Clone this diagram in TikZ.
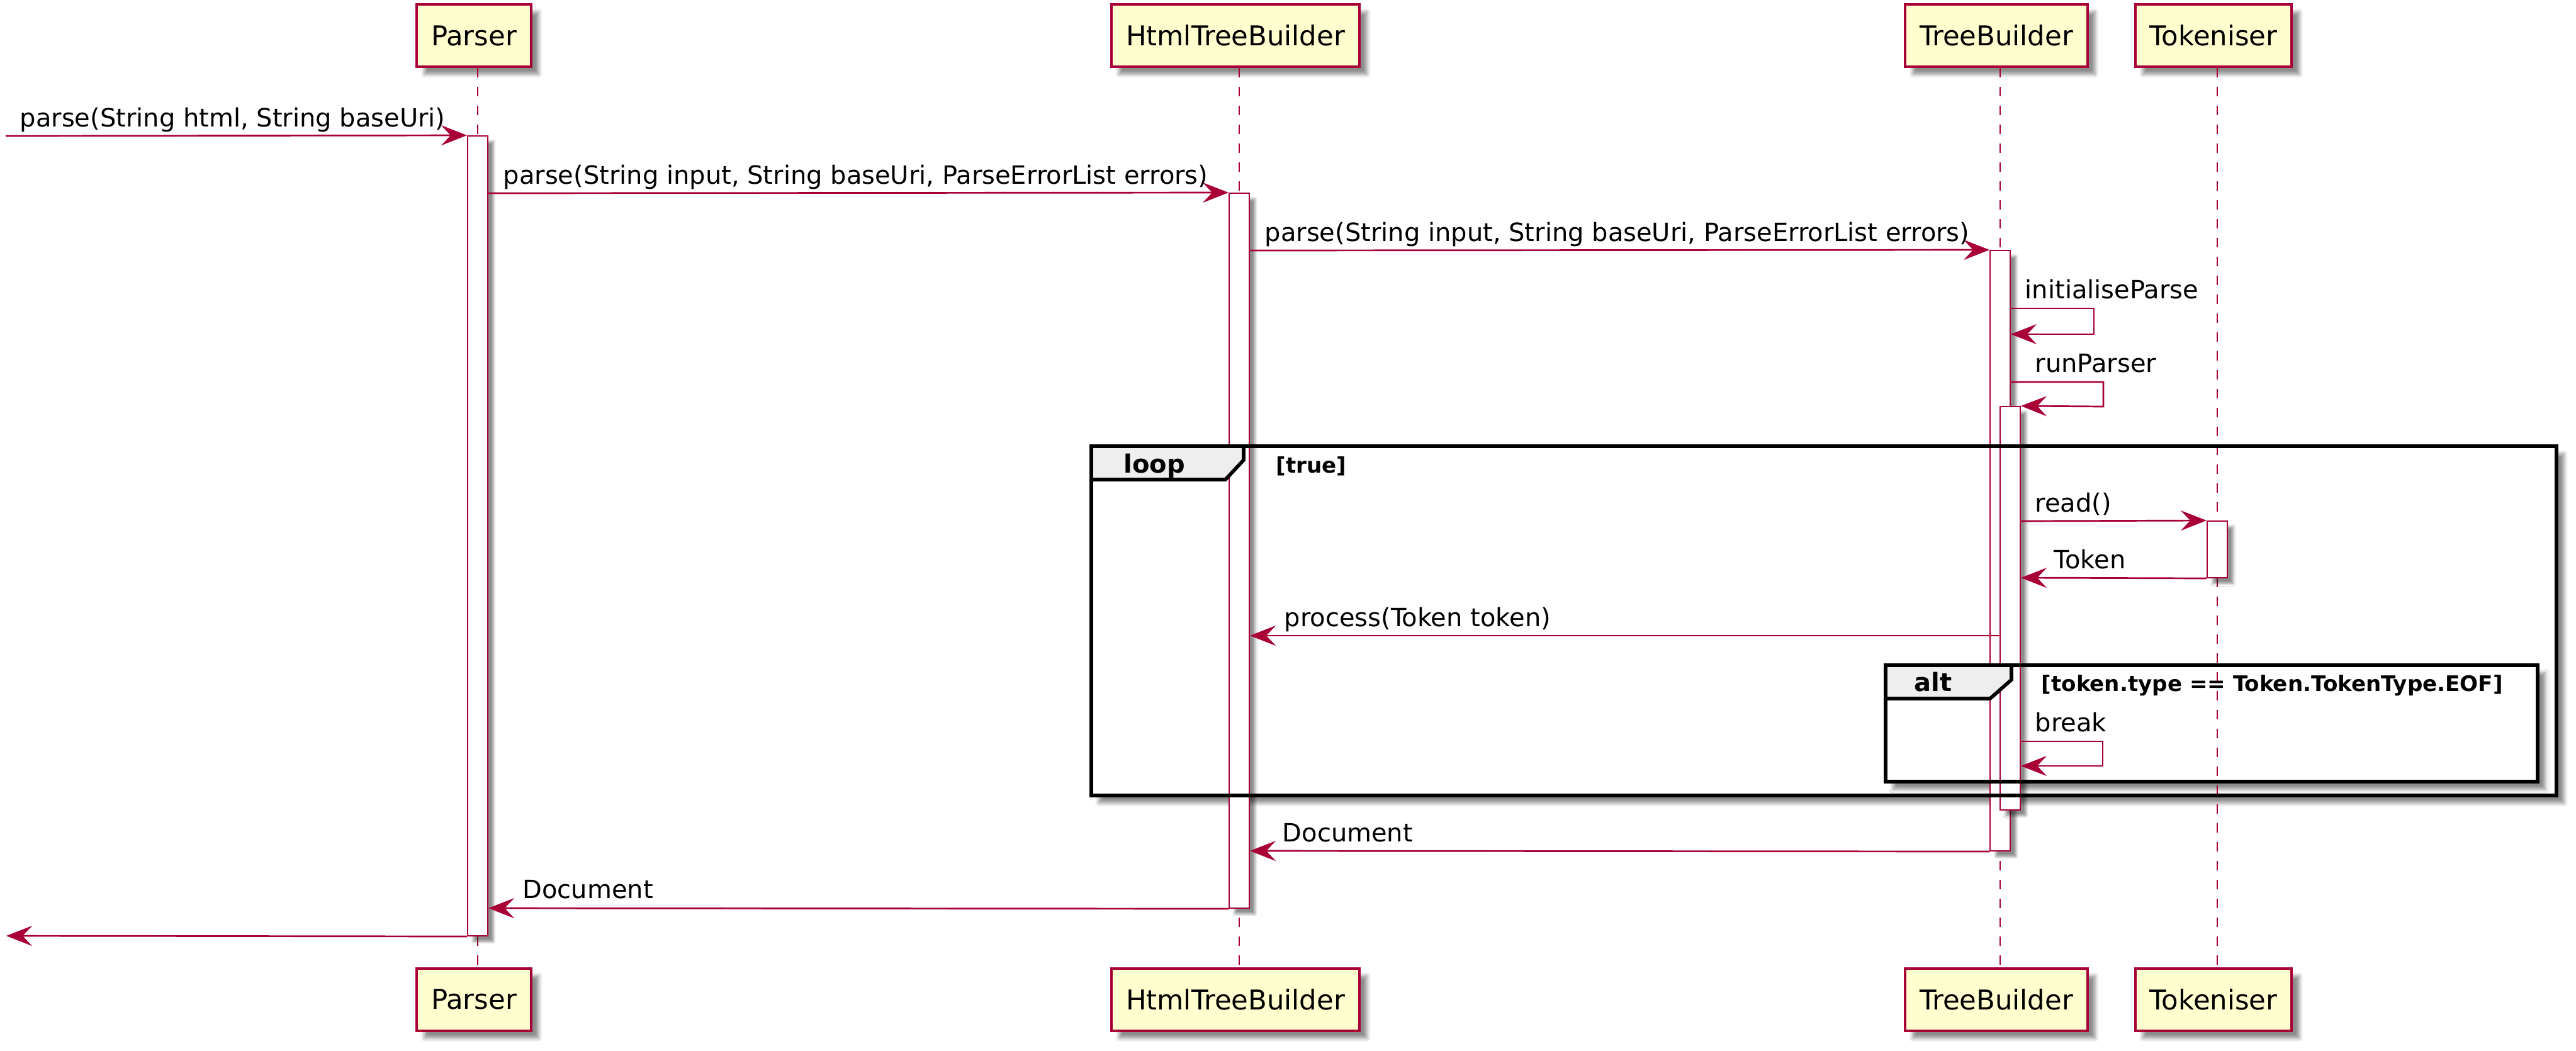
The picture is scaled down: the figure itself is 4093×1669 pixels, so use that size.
\documentclass[tikz,border=0pt]{standalone}
\usepackage{fontspec}
\setmainfont{DejaVu Sans}
\usepackage{tikz}
\usetikzlibrary{arrows.meta,positioning,shadows.blur}
\definecolor{umlred}{HTML}{A80036}
\definecolor{umlfill}{HTML}{FEFECE}
\definecolor{tabgray}{HTML}{EEEEEE}

\begin{document}
\begin{tikzpicture}[x=0.1mm, y=-0.1mm,
   part/.style={draw=umlred, fill=umlfill, line width=0.4mm, inner xsep=2.3mm, minimum height=9.9mm,
      font=\fontsize{12.35}{14}\selectfont,
      blur shadow={shadow xshift=1.2mm, shadow yshift=-1.2mm, shadow blur radius=0.6mm, shadow opacity=45}},
   life/.style={draw=umlred, line width=0.2mm, dash pattern=on 1.5mm off 1.5mm},
   act/.style={draw=umlred, fill=white, line width=0.2mm, minimum width=3.2mm, inner sep=0pt,
      blur shadow={shadow xshift=0.9mm, shadow yshift=-0.9mm, shadow blur radius=0.4mm, shadow opacity=45}},
   msg/.style={draw=umlred, line width=0.27mm, -{Stealth[length=4.1mm, width=3.2mm, inset=1.5mm]}},
   lbl/.style={anchor=base west, inner sep=0pt, font=\fontsize{11.38}{13}\selectfont},
   frm/.style={draw=black, line width=0.57mm},
   frmbg/.style={fill=white, blur shadow={shadow xshift=1.2mm, shadow yshift=-1.2mm, shadow blur radius=0.6mm, shadow opacity=45}},
   grp/.style={anchor=base west, inner sep=0pt, font=\bfseries\fontsize{11.38}{13}\selectfont},
   guard/.style={anchor=base west, inner sep=0pt, font=\bfseries\fontsize{9.7}{11}\selectfont}]
   \useasboundingbox (0,0) rectangle (4093,1669);

   \fill[frmbg] (1734,709) rectangle (4062,1264);
   \fill[frmbg] (2996,1057) rectangle (4032,1242);

   \begin{scope}[every node/.style={part}]
    \node (parserTop) at (753,56.5) {Parser};
    \node (htbTop) at (1963,56.5) {HtmlTreeBuilder};
    \node (tbTop) at (3172,56.5) {TreeBuilder};
    \node (tokTop) at (3517,56.5) {Tokeniser};
    \node (parserBot) at (753,1588) {Parser};
    \node (htbBot) at (1963,1588) {HtmlTreeBuilder};
    \node (tbBot) at (3172,1588) {TreeBuilder};
    \node (tokBot) at (3517,1588) {Tokeniser};
   \end{scope}

   \draw[life] ([xshift=0.6mm]parserTop.south) -- ([xshift=0.6mm]parserBot.north);
   \draw[life] ([xshift=0.6mm]htbTop.south) -- ([xshift=0.6mm]htbBot.north);
   \draw[life] ([xshift=0.6mm]tbTop.south) -- ([xshift=0.6mm]tbBot.north);
   \draw[life] ([xshift=0.6mm]tokTop.south) -- ([xshift=0.6mm]tokBot.north);

   \begin{scope}[every node/.style={act}]
    \node[minimum height=127.1mm] (parserAct) at (759,851.5) {};
    \node[minimum height=113.6mm] (htbAct) at (1969,875) {};
    \node[minimum height=95.4mm] (tbAct) at (3178,875) {};
    \node[minimum height=64.1mm] (tbAct2) at (3194,966.5) {};
    \node[minimum height=9mm] (tokAct) at (3523,873) {};
   \end{scope}

   \coordinate (in) at (9,216);
   \coordinate (out) at (10,1487);

   \draw[msg] (in) -- (parserAct.north west);
   \draw[msg] (parserAct.east |- 0,307) -- (htbAct.north west);
   \draw[msg] (htbAct.east |- 0,398) -- (tbAct.north west);
   \draw[msg] (tbAct.east |- 0,490) -- ++(132,0) -- ++(0,41) -- (tbAct.east |- 0,531);
   \draw[msg] (tbAct.east |- 0,607) -- ++(147,0) -- ++(0,39) -- (tbAct2.north east);
   \draw[msg] (tbAct2.east |- 0,828) -- (tokAct.north west);
   \draw[msg] (tokAct.south west) -- (tbAct2.east |- 0,918);
   \draw[msg] (tbAct2.west |- 0,1010) -- (htbAct.east |- 0,1010);
   \draw[msg] (tbAct2.east |- 0,1178) -- ++(130,0) -- ++(0,39) -- (tbAct2.east |- 0,1217);
   \draw[msg] (tbAct.south west) -- (htbAct.east |- 0,1352);
   \draw[msg] (htbAct.south west) -- (parserAct.east |- 0,1443);
   \draw[msg] (parserAct.south west) -- (out);

   \draw[frm] (1734,709) rectangle (4062,1264);
   \draw[frm, fill=tabgray] (1734,709) -- (1976,709) -- (1976,731) -- (1947,762) -- (1734,762) -- cycle;
   \draw[frm] (2996,1057) rectangle (4032,1242);
   \draw[frm, fill=tabgray] (2996,1057) -- (3196,1057) -- (3196,1080) -- (3162,1110) -- (2996,1110) -- cycle;

   \node[grp] (loopName) at (1785,751) {loop};
   \node[guard] (loopGuard) at (2027,751) {[true]};
   \node[grp] (altName) at (3041,1098) {alt};
   \node[guard] (altGuard) at (3243,1098) {[token.type == Token.TokenType.EOF]};

   \node[lbl] (l1) at (31,201) {parse(String html, String baseUri)};
   \node[lbl] (l2) at (799,292) {parse(String input, String baseUri, ParseErrorList errors)};
   \node[lbl] (l3) at (2009,383) {parse(String input, String baseUri, ParseErrorList errors)};
   \node[lbl] (l4) at (3217,474) {initialiseParse};
   \node[lbl] (l5) at (3233,591) {runParser};
   \node[lbl] (l6) at (3233,813) {read()};
   \node[lbl] (l7) at (3263,903) {Token};
   \node[lbl] (l8) at (2040,995) {process(Token token)};
   \node[lbl] (l9) at (3233,1162) {break};
   \node[lbl] (l10) at (2037,1337) {Document};
   \node[lbl] (l11) at (830,1427) {Document};
\end{tikzpicture}
\end{document}
